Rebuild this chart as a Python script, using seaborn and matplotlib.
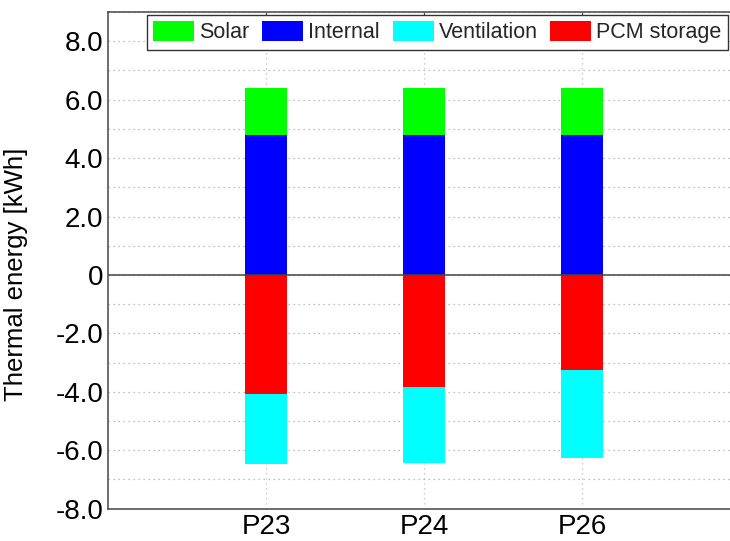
import numpy as np
import pandas as pd
import matplotlib
matplotlib.use("Agg")
import matplotlib.pyplot as plt
from matplotlib.patches import Patch
from matplotlib.ticker import MultipleLocator, FixedLocator
import seaborn as sns

sns.set_style("white")
plt.rcParams['font.family'] = ['Liberation Sans', 'DejaVu Sans']

# data (kWh)
cases = ["P23", "P24", "P26"]
solar = [1.6, 1.6, 1.6]
internal = [4.8, 4.8, 4.8]
pcm_storage = [-4.08, -3.82, -3.25]
ventilation = [-2.39, -2.61, -3.03]

series_names = ["Solar", "Internal", "Ventilation", "PCM storage"]
series_colors = ["#00ff00", "#0000ff", "#00ffff", "#ff0000"]

df = pd.DataFrame({"case": cases, "Solar": solar, "Internal": internal,
                   "Ventilation": ventilation, "PCM storage": pcm_storage})
# stacked totals, drawn back to front
df["gain_top"] = df["Internal"] + df["Solar"]
df["loss_bottom"] = df["PCM storage"] + df["Ventilation"]

fig = plt.figure(figsize=(7.3, 5.41), dpi=100)
ax = fig.add_axes([108 / 730, 32.3 / 541, 632 / 730, 496.7 / 541])

barw = 0.26
sns.barplot(data=df, x="case", y="gain_top", color=series_colors[0],
            width=barw, saturation=1, ax=ax, zorder=3, linewidth=0)
sns.barplot(data=df, x="case", y="Internal", color=series_colors[1],
            width=barw, saturation=1, ax=ax, zorder=3, linewidth=0)
sns.barplot(data=df, x="case", y="loss_bottom", color=series_colors[2],
            width=barw, saturation=1, ax=ax, zorder=3, linewidth=0)
sns.barplot(data=df, x="case", y="PCM storage", color=series_colors[3],
            width=barw, saturation=1, ax=ax, zorder=3, linewidth=0)

ax.axhline(0, color="#444444", lw=1.1, zorder=4)

ax.set_xlim(-1, 3)
ax.set_ylim(-8, 9)
ax.yaxis.set_major_locator(FixedLocator([-8, -6, -4, -2, 0, 2, 4, 6, 8]))
ax.yaxis.set_minor_locator(MultipleLocator(1))
ax.set_yticklabels(["-8.0", "-6.0", "-4.0", "-2.0", "0", "2.0", "4.0", "6.0", "8.0"])

ax.grid(True, which="both", axis="y", linestyle=(0, (1, 3)), color="#aaaaaa", lw=0.9, zorder=0)
ax.grid(True, which="major", axis="x", linestyle=(0, (1, 3)), color="#bbbbbb", lw=0.9, zorder=0)

ax.tick_params(axis="both", which="both", direction="in", top=True, right=True,
               labelsize=20, colors="#444444", labelcolor="black", pad=3.5)
ax.tick_params(axis="both", which="major", length=6)
ax.tick_params(axis="y", which="minor", length=4)

for s in ax.spines.values():
    s.set_visible(True)
    s.set_color("#555555")
    s.set_linewidth(1.2)

ax.set_xlabel("")
ax.set_ylabel("Thermal energy [kWh]", fontsize=18.5, color="black")
ax.yaxis.set_label_coords((28 - 108) / 632, (509 - 274) / 497)

handles = [Patch(facecolor=c, edgecolor="none", label=n)
           for n, c in zip(series_names, series_colors)]
leg = ax.legend(handles=handles, ncol=4, loc="upper right",
                bbox_to_anchor=(728 / 730, 1 - 15 / 541), bbox_transform=fig.transFigure,
                fontsize=15.5, frameon=True, fancybox=False, framealpha=1,
                handlelength=1.9, handleheight=1.0, handletextpad=0.23,
                columnspacing=0.6, borderpad=0.3, borderaxespad=0)
leg.get_frame().set_edgecolor("#333333")
leg.get_frame().set_linewidth(1.0)
leg.set_zorder(10)

fig.savefig("out.png", dpi=100)
